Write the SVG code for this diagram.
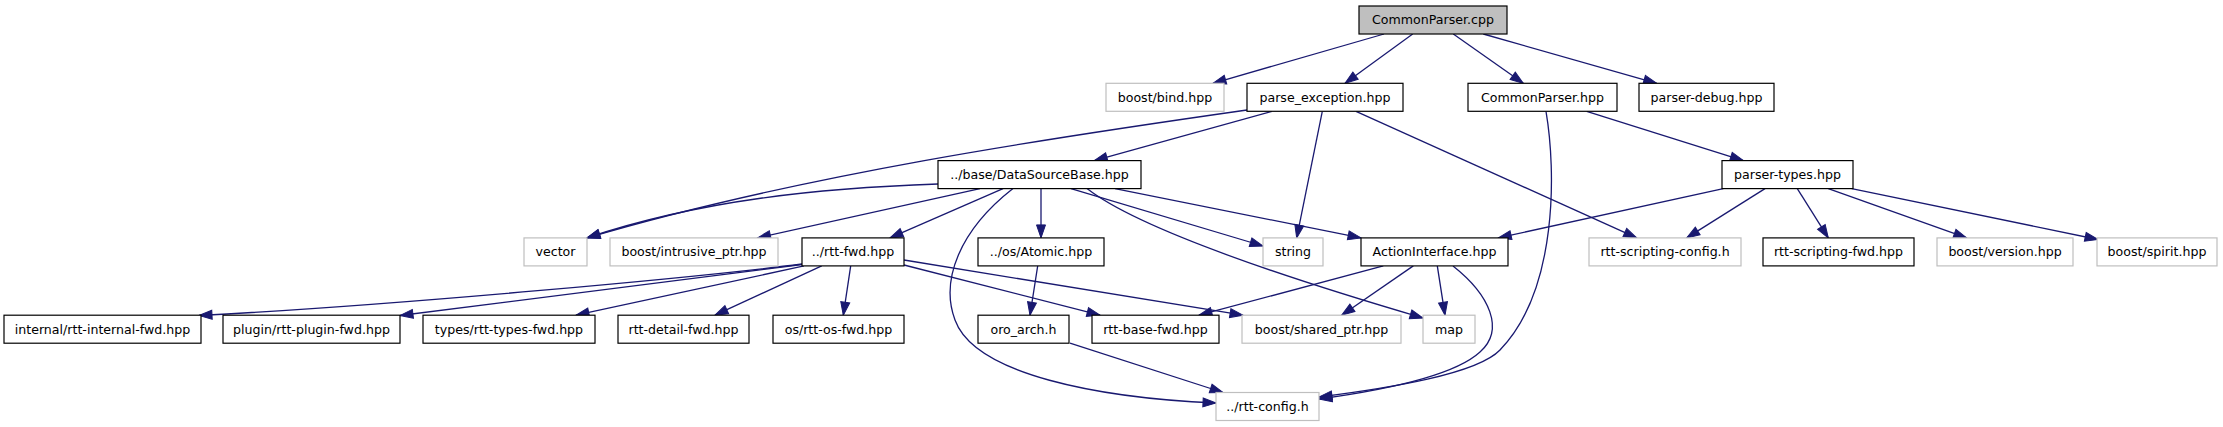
<svg xmlns="http://www.w3.org/2000/svg" width="2223" height="427" viewBox="0 0 2223 427">
<style>
.n rect{fill:#ffffff;stroke:#000000;stroke-width:1.2}
.n.x rect{stroke:#bfbfbf}
.n.root rect{fill:#bfbfbf}
.n text{font-family:"DejaVu Sans","Liberation Sans",sans-serif;font-size:12.6px;text-anchor:middle;fill:#000000}
#edges path{fill:none;stroke:#191970;stroke-width:1.3;marker-end:url(#arr)}
</style>
<defs>
<marker id="arr" markerUnits="userSpaceOnUse" markerWidth="13" markerHeight="9" refX="13" refY="4.5" orient="auto" overflow="visible">
<path d="M0,0 L13,4.5 L0,9 z" fill="#191970" stroke="#191970" stroke-width="1"/>
</marker>
</defs>
<rect x="0" y="0" width="2223" height="427" fill="#ffffff"/>
<g id="edges">
<path d="M1384,34 L1213,83.3"/>
<path d="M1412.7,34 L1345,83.3"/>
<path d="M1453.3,34 L1523.3,83.3"/>
<path d="M1483.3,34 L1656.7,83.3"/>
<path d="M1247,110 C1050,138 800,175 587,237.9"/>
<path d="M1272,111.3 L1094.3,160.6"/>
<path d="M1322.3,111.3 L1296.7,237.9"/>
<path d="M1356,111.3 L1636.7,237.9"/>
<path d="M1586.7,111.3 L1743.3,160.6"/>
<path d="M1546,111.3 C1556,170 1558,290 1500,350 C1477,374 1390,388 1319,397"/>
<path d="M938,184 C820,188 700,200 587,237.9"/>
<path d="M980,188.6 L757.6,237.9"/>
<path d="M1003,188.6 L890,237.9"/>
<path d="M1041,188.6 L1041,237.9"/>
<path d="M1013,188.6 C960,230 940,280 955,320 C975,375 1100,398 1216,403"/>
<path d="M1071,188.6 L1263,246"/>
<path d="M1115,188.6 L1361,237.9"/>
<path d="M1087,188.6 C1140,230 1300,282 1423,318"/>
<path d="M1723.3,188.6 L1498.3,237.9"/>
<path d="M1765,188.6 L1686.7,237.9"/>
<path d="M1797.3,188.6 L1828.3,237.9"/>
<path d="M1828.3,188.6 L1966.7,237.9"/>
<path d="M1851.7,188.6 L2098,239.5"/>
<path d="M802,264 C700,277 400,305 199,315.5"/>
<path d="M802,264.5 L400,315.5"/>
<path d="M804,265.9 L576,315.2"/>
<path d="M821.7,265.9 L715,315.2"/>
<path d="M850.7,265.9 L843.3,315.2"/>
<path d="M904,265 L1100,315.2"/>
<path d="M904,260 L1243,315.2"/>
<path d="M1037.7,265.9 L1030,315.2"/>
<path d="M1383.3,265.9 L1199,315.2"/>
<path d="M1413.3,265.9 L1341.7,315.2"/>
<path d="M1437.3,265.9 L1445,315.2"/>
<path d="M1453,265.9 C1490,295 1505,330 1480,352 C1455,375 1385,390 1319,399"/>
<path d="M1070,343.2 L1223,392.5"/>
</g>
<g id="n0" class="n root"><rect x="1359" y="6" width="148" height="28"/><text x="1433" y="24.4">CommonParser.cpp</text></g>
<g id="n1" class="n x"><rect x="1106" y="83.3" width="118" height="28"/><text x="1165" y="101.7">boost/bind.hpp</text></g>
<g id="n2" class="n"><rect x="1247" y="83.3" width="156" height="28"/><text x="1325" y="101.7">parse_exception.hpp</text></g>
<g id="n3" class="n"><rect x="1468" y="83.3" width="149" height="28"/><text x="1542.5" y="101.7">CommonParser.hpp</text></g>
<g id="n4" class="n"><rect x="1639" y="83.3" width="135" height="28"/><text x="1706.5" y="101.7">parser-debug.hpp</text></g>
<g id="n5" class="n"><rect x="938" y="160.6" width="203" height="28"/><text x="1039.5" y="179">../base/DataSourceBase.hpp</text></g>
<g id="n6" class="n"><rect x="1722" y="160.6" width="131" height="28"/><text x="1787.5" y="179">parser-types.hpp</text></g>
<g id="n7" class="n x"><rect x="524" y="237.9" width="63" height="28"/><text x="555.5" y="256.3">vector</text></g>
<g id="n8" class="n x"><rect x="610" y="237.9" width="168" height="28"/><text x="694" y="256.3">boost/intrusive_ptr.hpp</text></g>
<g id="n9" class="n"><rect x="802" y="237.9" width="102" height="28"/><text x="853" y="256.3">../rtt-fwd.hpp</text></g>
<g id="n10" class="n"><rect x="978" y="237.9" width="126" height="28"/><text x="1041" y="256.3">../os/Atomic.hpp</text></g>
<g id="n11" class="n x"><rect x="1263" y="237.9" width="60" height="28"/><text x="1293" y="256.3">string</text></g>
<g id="n12" class="n"><rect x="1361" y="237.9" width="147" height="28"/><text x="1434.5" y="256.3">ActionInterface.hpp</text></g>
<g id="n13" class="n x"><rect x="1589" y="237.9" width="152" height="28"/><text x="1665" y="256.3">rtt-scripting-config.h</text></g>
<g id="n14" class="n"><rect x="1763" y="237.9" width="151" height="28"/><text x="1838.5" y="256.3">rtt-scripting-fwd.hpp</text></g>
<g id="n15" class="n x"><rect x="1937" y="237.9" width="136" height="28"/><text x="2005" y="256.3">boost/version.hpp</text></g>
<g id="n16" class="n x"><rect x="2097" y="237.9" width="120" height="28"/><text x="2157" y="256.3">boost/spirit.hpp</text></g>
<g id="n17" class="n"><rect x="4" y="315.2" width="197" height="28"/><text x="102.5" y="333.6">internal/rtt-internal-fwd.hpp</text></g>
<g id="n18" class="n"><rect x="223" y="315.2" width="177" height="28"/><text x="311.5" y="333.6">plugin/rtt-plugin-fwd.hpp</text></g>
<g id="n19" class="n"><rect x="423" y="315.2" width="172" height="28"/><text x="509" y="333.6">types/rtt-types-fwd.hpp</text></g>
<g id="n20" class="n"><rect x="618" y="315.2" width="131" height="28"/><text x="683.5" y="333.6">rtt-detail-fwd.hpp</text></g>
<g id="n21" class="n"><rect x="773" y="315.2" width="131" height="28"/><text x="838.5" y="333.6">os/rtt-os-fwd.hpp</text></g>
<g id="n22" class="n"><rect x="978" y="315.2" width="91" height="28"/><text x="1023.5" y="333.6">oro_arch.h</text></g>
<g id="n23" class="n"><rect x="1092" y="315.2" width="127" height="28"/><text x="1155.5" y="333.6">rtt-base-fwd.hpp</text></g>
<g id="n24" class="n x"><rect x="1242" y="315.2" width="159" height="28"/><text x="1321.5" y="333.6">boost/shared_ptr.hpp</text></g>
<g id="n25" class="n x"><rect x="1423" y="315.2" width="52" height="28"/><text x="1449" y="333.6">map</text></g>
<g id="n26" class="n x"><rect x="1216" y="392.5" width="103" height="28"/><text x="1267.5" y="410.9">../rtt-config.h</text></g>
</svg>
